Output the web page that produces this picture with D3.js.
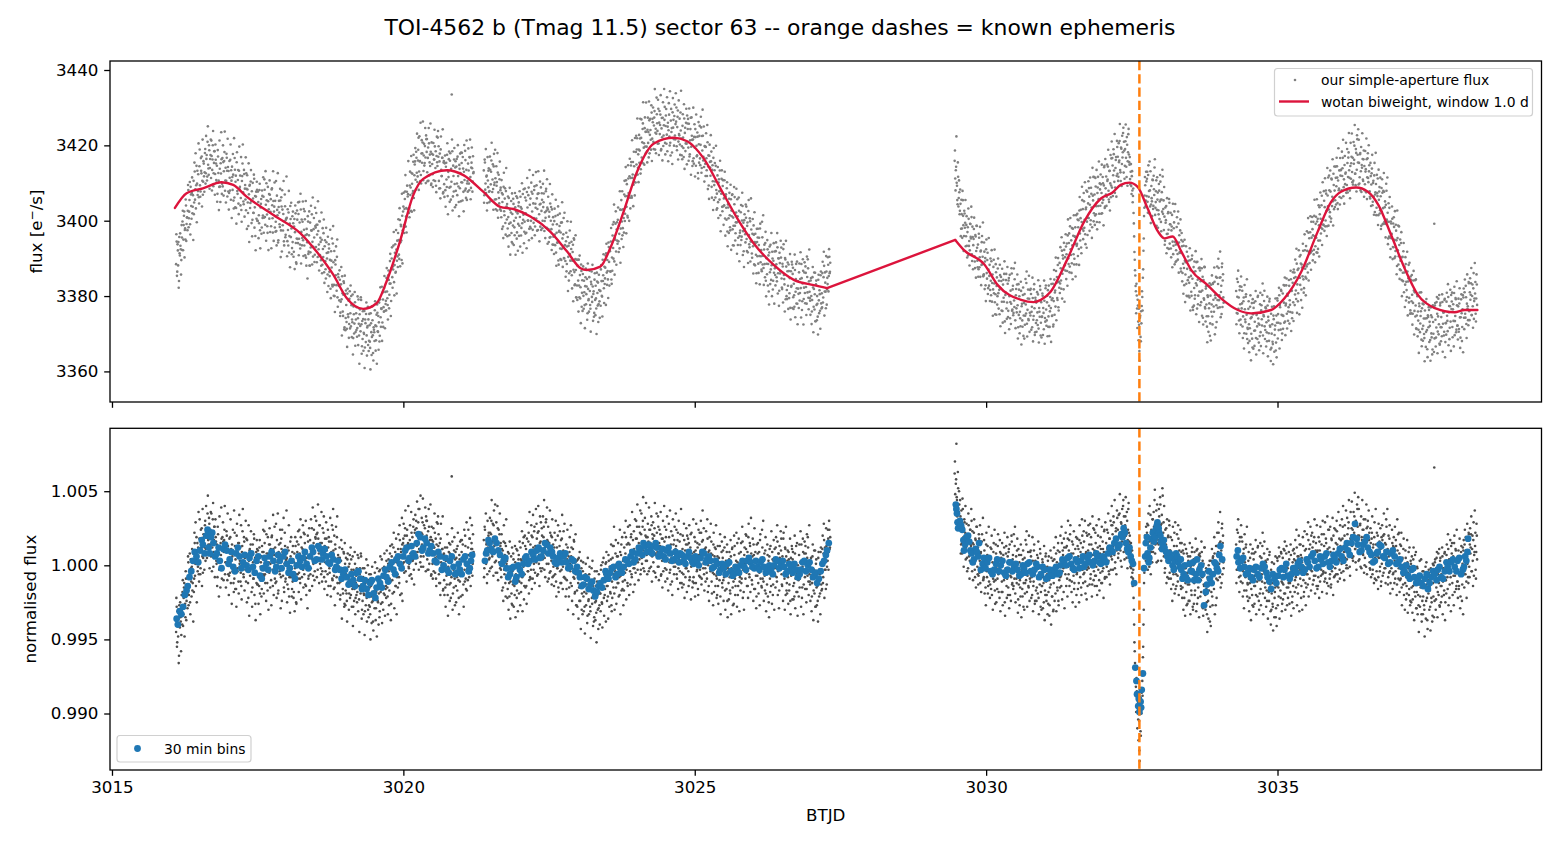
<!DOCTYPE html>
<html>
<head>
<meta charset="utf-8">
<script src="https://cdn.jsdelivr.net/npm/d3@7"></script>
<style>
  body { margin: 0; background: #fff; }
  svg { display: block; }
  text { font-family: "DejaVu Sans", sans-serif; fill: #000; }
</style>
</head>
<body>
<svg id="chart" width="1560" height="845"></svg>
<script>
// ---- data ----
// wotan biweight trend (BTJD, e-/s)
const trendT = [3016.08,3016.28,3016.56,3016.88,3017.08,3017.31,3017.77,3018.23,3018.51,3018.80,3019.03,3019.31,3019.54,3019.71,3019.94,3020.17,3020.34,3020.75,3021.03,3021.37,3021.66,3021.89,3022.18,3022.52,3022.81,3023.04,3023.15,3023.38,3023.55,3023.78,3024.01,3024.30,3024.64,3024.87,3025.15,3025.44,3025.73,3026.01,3026.36,3026.70,3027.04,3027.27,3029.47,3029.62,3029.97,3030.20,3030.60,3030.82,3030.94,3031.11,3031.40,3031.68,3031.97,3032.17,3032.31,3032.46,3032.60,3032.77,3032.95,3033.06,3033.20,3033.35,3033.52,3033.80,3034.03,3034.32,3034.55,3034.89,3035.12,3035.41,3035.69,3035.92,3036.09,3036.35,3036.55,3036.73,3036.95,3037.18,3037.41,3037.70,3038.04,3038.21,3038.43]
const trendF = [3403.4,3407.3,3408.6,3410.2,3409.5,3406.4,3401.5,3396.7,3391.8,3385.6,3379.4,3376.6,3378.1,3383.8,3394.4,3406.8,3411.1,3413.4,3412.1,3407.7,3403.7,3403.1,3401.1,3397.1,3391.8,3387.4,3386.9,3387.8,3392.7,3402.4,3413.0,3420.5,3422.0,3421.1,3416.6,3408.6,3400.6,3394.0,3388.2,3384.3,3382.9,3382.1,3394.9,3392.2,3388.4,3382.9,3379.0,3378.4,3379.0,3381.2,3390.0,3399.7,3405.9,3407.5,3409.5,3410.1,3409.0,3403.3,3397.1,3395.3,3395.8,3391.8,3386.9,3382.9,3379.4,3376.3,3375.4,3376.3,3379.4,3386.5,3397.1,3405.0,3407.7,3408.8,3407.7,3404.2,3396.2,3387.4,3380.3,3376.8,3375.7,3376.3,3376.3]
const trendGapStart = 3027.27, trendGapEnd = 3029.47

// normalised flux of every cadence, as deviation from 1 in units of 1e-4
// set A at segStart + i*cadence, set B half a cadence later
const cadence = 0.01
const segStart = [3016.10, 3021.38, 3029.46, 3034.29]
const grayA1 = [-45,-28,-52,-36,-30,-61,-40,-25,-38,-47,-30,-18,-41,-22,-12,-27,-35,-9,-24,-19,
-14,2,-20,-6,-25,4,-11,-1,-17,-3,8,-9,15,1,-14,19,5,-4,12,-6,18,3,-2,14,25,6,-5,21,9,12,
30,11,22,5,35,17,9,28,14,24,6,23,12,31,-1,17,26,8,19,3,14,-8,21,2,-3,11,-15,7,18,-1,
-3,16,9,24,-6,12,2,20,-10,13,10,-7,5,19,-12,3,14,-4,8,-18,-9,13,4,-16,20,-2,7,-11,15,1,
12,-5,-14,9,23,1,-8,16,5,-3,-11,6,17,-4,-22,3,10,-7,14,-1,7,-15,2,-9,18,-4,-26,5,-12,11,
-13,2,-8,12,-19,-1,6,-16,9,-6,9,-7,15,-12,4,21,-3,-17,8,2,-5,14,1,-10,19,7,-14,11,3,26,
12,-4,-11,17,2,-19,9,5,-6,15,-8,11,24,-3,6,-15,1,13,-9,4,5,-13,-4,10,-21,2,16,-8,-1,-16,
-11,4,-18,8,-2,13,-25,-6,9,-9,14,-5,8,-12,19,2,-8,11,-3,22,-6,15,3,-14,9,-1,20,-9,6,-17,
17,-2,12,25,4,-7,15,9,-4,19,3,21,14,-3,18,8,27,1,12,-6,15,-4,9,22,-8,13,2,-11,18,6,
-6,12,19,-2,8,-14,16,4,-9,24,10,-7,-15,14,3,-4,19,-12,7,-1,-12,5,-20,3,-8,11,-16,-2,8,-26,
1,-17,-6,-24,4,-12,-1,-19,7,-10,-20,-3,-14,6,-28,-9,-16,1,-22,-7,-2,-18,-10,5,-23,-6,-15,8,-13,-30,
-24,-8,-19,-2,-31,-12,-5,-22,-16,0,-10,-27,-15,-33,-6,-21,-25,-12,-38,-18,-22,-5,-17,-29,-9,-2,-24,-13,-19,-35,
-3,-18,-12,4,-25,-8,-15,-1,-20,-6,-14,3,-9,-21,1,-4,-17,8,-11,-26,6,-10,-3,12,-18,-6,9,-14,2,-8,
-6,11,4,-12,17,-2,9,-19,14,1,18,2,13,25,-4,9,20,5,15,-1,1,17,8,-6,22,12,3,26,-3,14,
24,9,30,13,5,21,38,11,18,2,6,22,14,29,-1,18,10,25,16,33,20,4,15,-3,26,11,8,19,-6,17,
1,16,-4,12,22,5,-9,14,9,28,13,-6,9,-12,18,2,-3,11,-17,7,-10,6,-15,3,-7,12,-20,-1,9,-13,
8,-12,2,60,16,-19,-3,10,-9,4,-14,5,-8,13,-2,-22,7,-11,1,17,9,-6,14,-13,3,-3,20,-9,6,-17,
-2,12,7,-8,18,3,-5,15,11,1,8]
const grayB1 = [-22,-55,-31,-48,-66,-27,-42,-35,-58,-20,-40,-10,-33,-15,-48,-26,-4,-37,-19,-29,
6,-27,-15,8,-33,-2,-21,11,-12,-38,-18,22,-7,29,4,-25,15,-1,36,-11,31,-6,24,12,-14,38,5,19,-3,27,
3,40,25,8,47,14,32,-2,21,36,35,-4,20,42,9,26,-8,31,16,1,-14,26,8,-21,33,-3,15,39,-9,19,
29,-10,17,40,2,-15,23,10,35,-6,-20,18,-5,31,11,-26,6,24,-12,37,22,-16,9,-28,28,-4,15,-19,34,3,
-11,27,-23,13,38,-6,19,-17,8,30,18,-25,6,-12,27,-34,11,-3,23,-18,-28,14,-9,21,-20,5,-37,9,17,-13,
10,-26,-14,17,-33,2,-21,13,-8,24,-19,23,-6,30,-24,8,-12,19,-30,14,25,-15,11,-27,20,-3,34,-20,7,-9,
-12,28,-22,6,35,-17,14,-4,24,-29,18,-24,9,-7,32,-18,22,-11,3,37,-25,12,-16,27,-8,-32,6,19,-21,9,
13,-22,2,-31,19,-10,-26,16,-6,23,-18,24,-9,31,-23,12,-2,27,-15,6,21,-13,30,-20,5,-29,16,-7,25,-17,
-6,31,12,-14,39,1,24,-10,33,18,30,-8,22,41,4,-12,27,15,-2,36,-11,25,3,33,-16,18,-4,29,10,-20,
24,-14,16,-5,32,-21,9,27,-10,38,-16,20,-27,11,26,-8,33,-19,5,-1,12,-23,-11,17,-36,-2,-19,9,-28,15,
-27,5,-19,-38,8,-14,-30,1,-22,12,4,-28,-16,-41,-3,-24,9,-33,-12,-20,-25,7,-31,-14,-45,-2,-19,6,-36,-10,
-2,-33,-20,-47,-9,-27,4,-38,-15,-30,-35,-6,-28,-50,-14,-39,-1,-24,-44,-20,-29,2,-37,-18,-48,-9,-25,-40,-4,-31,
6,-26,-13,-39,-2,-30,-19,8,-34,-16,-22,10,-15,-33,4,-27,-9,13,-37,-1,14,-19,-6,22,-29,3,-14,18,-33,7,
-15,21,-8,27,-20,11,-3,32,-24,15,28,-5,20,37,3,-11,24,14,40,-2,-7,27,13,36,-9,19,4,31,-13,22,
34,1,25,43,9,29,-3,38,18,47,-1,32,21,45,6,27,12,39,-4,30,30,-3,23,38,1,17,41,-7,26,9,
-9,25,12,35,-5,18,-14,29,6,33,21,-12,15,-20,28,-3,11,33,-16,8,-20,12,-28,6,-13,21,-34,-5,15,-24,
14,-22,-8,25,-30,5,-15,19,-27,9,-25,11,-17,22,-10,-33,4,16,-21,-6,17,-20,5,-28,24,-11,13,-16,29,-4,
-10,24,-3,18,32,-14,11,27,-7,21,9]
const grayA2 = [17,-2,24,8,1,15,-6,12,20,4,5,22,11,30,-1,16,9,27,13,2,19,3,14,-5,25,10,6,21,-2,15,
-8,11,4,-15,16,-3,7,-12,13,1,3,-16,-7,8,-21,-1,-11,6,-26,-4,-13,4,-9,-20,2,-6,11,-17,-2,-10,
7,-11,-4,12,-18,3,-8,15,-1,-23,-6,13,1,-14,18,6,-4,22,-10,9,14,-3,20,5,-9,12,1,26,-5,10,
2,18,10,-6,23,7,15,-2,29,11,20,4,15,26,-3,12,8,31,1,17,16,1,11,-5,22,9,3,19,-8,14,
-7,12,2,17,-11,5,-2,20,-15,8,13,-4,9,-12,18,6,-1,23,-8,3,-9,7,-16,4,12,-3,-21,9,1,-12,
6,-14,-2,11,-8,16,-19,2,-6,-27,-17,-1,-12,5,-24,-6,-15,3,-30,-9,-4,-21,-9,-28,-13,1,-19,-7,-34,-15,
-23,-6,-17,-31,-10,-2,-26,-14,-20,-38,-9,-25,-14,-32,-4,-20,-12,-29,-18,-40,-19,-3,-13,-26,2,-11,-22,-6,-16,1,
2,-14,-5,-21,7,-9,-1,-18,4,-27,-11,5,-6,13,-19,-2,8,-15,1,-9,6,-12,-1,-20,9,-7,14,-4,-16,3,
-5,12,-10,8,19,-3,4,-14,15,1,14,-4,10,21,-8,6,17,-2,11,-13,1,18,7,26,-3,12,15,4,22,-6,
21,5,16,30,-2,13,24,9,3,19,3,19,8,-4,24,12,15,-1,27,6,18,2,14,25,-5,11,7,22,9,33,
-1,15,6,21,-7,10,3,18,-4,12,16,-2,11,24,4,-9,13,7,19,-5,-3,14,5,-11,20,8,-1,17,2,11,
13,-6,9,22,-2,4,16,-12,7,1,-5,11,2,-13,17,6,-8,14,-2,20,10,-4,15,-10,3,21,-1,8,-15,6,
-8,9,1,16,-12,4,-3,12,-20,7,14,-3,8,22,-9,5,17,1,-6,11,-2,12,4,-9,18,0,-14,10,6,-4,
8,-11,3,-5,14,-18,6,-2,11,-7,-9,6,-14,2,-4,13,-21,-1,9,-12,5,-10,-3,12,-17,1,-7,9,-24,-2,
-12,4,-8,-19,6,-2,11,-15,-5,-26,7,-9,-14,3,-4,15,-20,-1,8,-11,-6,9,-12,4,16,-3,-18,7,1,-9,
11,-5,6,-14,19,1,-8,13,-2,8,-10,6,-3,14,-16,2,9,-7,-21,4,8,-12,3,-5,17,-9,1,-15,12,-2,
-11,4,-7,10,-19,-1,-13,7,-4,-25,6,-9,13,-14,-2,9,-20,3,-6,11,-7,12,2,-11,16,-4,8,-17,5,-1,
10,-6,-14,4,18,-2,-9,12,-20,6,-12,3,-8,9,-17,-1,-24,5,-6,11,4,-14,-3,-21,8,-9,13,-6,-18,0,
-10,7,-15,2,-5,14,-22,-1,9,-13,8,-8,13,-3,-16,5,19,-11,2,-6,-13,3,-9,-21,6,-2,-17,10,-7,-28,
1,-15,-8,-24,5,-11,-3,-19,9,-13,-5,11,-12,8,17,-3,4,-16,13,-1,3,18,9,24,12]
const grayB2 = [-8,26,3,35,14,-12,30,7,22,-4,32,-2,21,44,6,28,-7,37,15,41,-5,29,17,40,-10,24,2,35,13,-3,
21,-17,10,-24,27,-6,15,-21,31,-9,-22,9,-30,-12,16,-36,-3,-19,12,-27,8,-28,-14,13,-35,-1,-22,10,-31,4,
-19,16,-27,4,-12,23,-31,-5,19,-14,20,-15,11,-26,29,-4,16,-19,36,-8,-9,27,-16,19,34,-3,23,-12,13,38,
28,-7,22,40,1,-14,33,16,-4,25,-2,33,19,44,5,-8,29,14,39,-11,26,-9,15,37,-4,20,-13,31,8,-1,
-14,22,-6,30,-21,12,-2,27,-18,9,23,-12,17,-3,34,-16,10,-8,28,3,-21,14,-10,24,-30,6,-15,19,-4,27,
12,-24,5,-33,17,-9,-18,21,-27,3,-28,4,-36,-15,9,-24,-43,-2,-19,-33,2,-31,-18,-46,-6,-27,-13,-39,5,-24,
-33,-1,-28,-49,-12,-22,3,-41,-18,-35,-4,-37,-24,-52,-11,-30,-43,-6,-27,-19,-31,0,-25,-42,-15,5,-34,-20,-8,-38,
9,-24,-14,-36,3,-28,-2,-19,14,-31,-22,13,-15,26,-30,-4,17,-26,6,-12,15,-21,-8,24,-33,7,-17,19,-11,-27,
-17,22,-5,30,-23,14,-12,26,3,-20,27,-13,19,-6,36,8,-18,23,-2,31,-5,30,18,41,2,-10,26,13,37,-3,
35,1,26,46,10,-4,32,20,42,7,-6,28,16,39,-2,24,7,33,-11,21,29,-4,20,42,8,-8,35,15,-1,26,
-10,24,13,36,-6,18,-15,30,4,40,26,-11,19,-3,33,10,-17,28,2,37,-13,23,8,-20,31,14,-6,26,-1,35,
24,-9,17,-16,30,3,-4,21,38,-12,-15,20,-6,28,-22,10,-2,25,-18,14,18,-14,27,-8,12,-23,22,5,-11,31,
-12,19,-21,10,28,-4,15,-16,24,-7,22,-8,30,-13,16,37,-2,25,-17,11,-11,23,-5,31,-18,9,-24,19,2,28,
16,-19,7,-27,22,-6,12,-14,27,-22,-20,13,-26,5,-10,21,-33,-3,16,-15,10,-24,-8,19,-30,3,-16,14,-35,-4,
-23,9,-17,17,-33,-6,12,-27,-11,20,13,-20,-5,22,-28,2,-14,18,-31,-8,-17,15,-9,26,-22,4,-30,12,-3,21,
20,-14,9,-22,28,-6,15,-18,32,-1,-13,18,-24,7,25,-16,2,-29,14,-7,15,-19,9,-27,21,-4,-14,24,-9,30,
-24,8,-17,19,-31,-5,14,-21,3,-35,11,-18,-6,23,-26,4,-13,17,-30,-2,-15,19,-8,27,-20,8,-29,13,-3,23,
18,-13,6,-24,22,-5,-30,11,26,-17,-19,10,-26,4,-13,18,-33,-7,13,-23,9,-23,-12,20,-29,1,-18,15,-34,-6,
-21,14,-9,23,-28,3,-15,18,-33,-4,16,-16,8,-25,21,-7,12,-20,27,-11,-24,5,-31,-12,14,-37,-3,-19,10,-28,
4,-27,-14,-38,9,-21,-6,-33,12,-17,-16,20,-8,28,-22,12,-3,25,-13,8,24,-3,30,11,19]
const grayA3 = [62,48,55,82,44,30,52,36,41,27,33,14,26,8,38,19,11,29,22,4,21,5,16,-2,27,10,3,24,13,30,
-4,15,9,22,1,-8,17,6,26,-1,12,-7,18,3,-12,9,-2,21,5,-10,-8,10,3,-15,14,-4,7,-19,1,-11,
6,-13,-5,11,-20,2,-9,15,-3,-17,-10,8,-2,-16,13,-6,4,-22,9,-1,5,-11,-18,3,-7,12,-25,-4,8,-14,
-9,6,-15,11,-3,-20,2,-8,16,-12,7,-14,-4,13,-19,1,-9,10,-6,-23,-13,2,-10,-21,7,-5,-16,4,-28,-2,
5,-12,-3,14,-18,-7,9,-15,2,-9,-11,6,-8,-20,3,-14,10,-5,-24,1,-1,-15,-9,5,-22,-6,-13,8,-18,-30,
-14,2,-8,-25,-3,-17,6,-11,-20,-1,3,-18,-10,-27,-4,-13,5,-21,-8,-31,-12,4,-7,-19,8,-2,-15,10,-24,-5,
9,-8,3,-14,15,-4,7,-18,12,-1,-6,12,5,-9,18,-1,10,-14,21,2,8,-11,2,14,-7,-16,5,11,-3,-20,
-5,13,6,-12,17,-2,9,-15,4,20,12,-6,16,1,-11,8,22,-3,-14,10,-2,14,7,-9,19,3,-13,11,25,-4,
10,-7,15,-1,-14,8,20,2,-10,13,-5,11,4,-12,16,-2,9,24,-8,6,15,-1,11,22,3,-6,18,8,-3,27,
4,21,13,29,7,-2,17,25,10,32,24,8,19,35,12,3,28,16,21,40,9,26,14,33,20,5,30,17,38,22,
14,3,9,-2,6,-5,-9,-22,-40,-58,-70,-82,-76,-95,-88,-104,-93,-125,-98,-112,-91,-86,-78,-62,-40,-12,5,14,3,19,
22,5,27,11,-1,18,34,9,15,2,31,12,26,44,8,19,37,15,24,3,14,33,25,41,10,28,19,47,22,6,
17,-2,12,25,3,-8,19,6,30,-5,10,-9,5,17,-4,-13,8,22,-1,-16,-6,13,1,-11,18,4,-3,15,-14,9,
5,-15,-7,8,-22,-2,-12,11,-27,-5,-13,3,-9,-24,6,-1,-17,9,-6,-30,4,-12,-20,2,-7,10,-26,-3,-15,7,
-11,6,-2,-18,9,-8,-29,1,-14,12,-20,-4,-16,-33,-8,-24,0,-13,-38,-6,3,-12,-21,5,-7,-16,8,-2,-27,-9,
13,-4,9,22,1,-8,16,5,-12,28,15,2]
const grayB3 = [70,39,58,46,33,63,29,50,24,44,8,37,15,45,26,-1,31,18,40,12,28,-4,20,35,6,-9,24,14,38,1,
23,-10,14,31,-3,18,-15,26,9,-6,-13,21,-5,27,8,-18,16,-1,32,-9,17,-19,6,-27,22,-8,13,-14,26,-3,
-22,12,-16,20,-5,-30,9,-11,24,-26,14,-25,5,-9,21,-18,-3,17,-31,8,-18,15,-27,7,-10,22,-34,-2,13,-22,
19,-20,9,-29,14,-7,-24,20,-13,4,-16,21,-9,26,-25,6,-12,18,-32,11,7,-27,-15,14,-35,-3,-21,10,-12,-30,
-19,17,-10,23,-28,2,-14,20,-24,9,10,-22,-4,19,-31,-11,14,-26,3,-17,-24,7,-19,16,-33,-9,11,-28,-2,-14,
4,-29,-12,13,-37,-20,8,-24,-6,-33,-26,6,-34,-15,10,-40,-8,-21,3,-30,12,-24,-6,19,-31,2,-17,15,-27,-10,
-15,20,-7,26,-23,10,-2,18,-29,5,22,-14,13,-21,30,-6,17,-10,27,-3,-18,16,-25,8,23,-12,4,-28,19,-6,
18,-16,11,-25,27,-8,15,-20,31,-3,-12,23,-5,30,-19,9,-23,20,-1,27,21,-13,28,-6,14,-21,33,7,-10,24,
-14,22,-7,27,-20,12,-3,31,-17,8,19,-12,26,-4,11,-22,23,-9,29,1,-8,24,12,35,-4,18,-13,30,6,40,
27,-3,33,16,44,2,23,-6,37,11,5,34,20,48,10,29,-1,38,25,44,33,4,27,46,13,36,-2,24,42,16,
20,-1,15,-8,10,-14,-3,-30,-52,-66,-78,-99,-85,-110,-92,-118,-105,-132,-96,-115,-100,-74,-88,-55,-30,-5,20,-2,26,8,
28,-3,35,16,40,6,-6,24,13,31,9,36,22,51,14,28,2,41,30,17,38,11,46,27,3,34,52,18,29,40,
-5,24,14,-12,31,3,20,-9,27,10,19,-16,8,-24,26,-6,13,-19,29,-2,-14,21,-7,27,-20,10,-3,24,-16,15,
-22,10,-30,-9,14,-34,-2,-18,8,-26,6,-24,-13,15,-33,-5,-20,12,-28,0,-26,9,-17,18,-31,-8,11,-22,-1,-35,
8,-21,-10,16,-28,3,-34,-13,12,-19,-30,-2,-25,-45,-9,-36,-17,3,-28,-41,-18,11,-27,6,-12,19,-33,-4,13,-22,
22,-10,29,-3,15,36,-15,10,25,-6,20,-2]
const grayA4 = [14,-3,10,22,1,-8,16,5,-11,19,6,-12,-4,11,-17,2,-8,14,-2,-21,-13,3,-9,-22,5,-4,-16,8,-27,-1,
4,-14,-7,9,-20,-2,-11,12,-5,-24,-10,6,-16,1,-6,13,-19,-3,8,-12,-15,2,-9,-24,4,-5,-18,7,-12,-31,
-3,-19,-12,-28,-6,1,-22,-15,-35,-8,-14,3,-8,-21,6,-2,-17,9,-11,-26,5,-13,-3,10,-19,-7,8,-15,0,-22,
-12,4,-8,-18,7,-3,-25,2,-14,11,8,-10,3,-15,12,-5,-19,6,-2,14,-9,7,-14,2,-6,13,-21,-1,10,-12,
11,-6,5,-13,17,1,-9,14,-3,20,-4,12,6,-10,19,2,-7,15,-14,9,10,-8,3,16,-11,5,-3,21,-6,0,
-5,13,7,-9,18,1,-12,11,24,-2,12,-6,9,-13,17,3,-1,20,-8,6,-2,15,8,23,-6,11,3,18,-9,13,
17,1,12,26,-4,9,20,5,14,-2,4,21,10,29,15,-1,18,8,25,13,24,6,19,33,11,2,27,14,38,20,
3,20,9,28,14,-2,17,24,7,31,19,5,15,-1,25,11,30,8,17,2,-3,15,9,22,-6,12,2,19,-9,7,
14,-4,8,20,-8,5,16,-1,11,-11,1,17,6,-5,21,10,-2,14,26,3,11,-8,6,18,-4,-12,9,2,15,-6,
-5,12,3,-9,17,6,-13,10,21,-2,8,-10,-2,13,-15,4,-7,11,-20,1,-12,5,-8,-19,2,-5,9,-16,-1,-24,
1,-15,-9,-23,4,-3,-18,7,-12,-29,-18,-2,-13,-27,-6,3,-21,-11,-33,-8,-4,-21,-15,-30,-8,-1,-24,-13,-37,-10,
-19,-5,-14,-28,-2,-22,-9,-34,-12,0,66,2,-9,-23,5,-4,-18,8,-12,-27,3,-14,-6,-21,6,-11,-2,-17,9,-25,
-10,7,-4,-16,11,-1,-22,4,-8,13,8,-12,2,-7,15,-18,-3,10,-14,5,-11,4,-16,6,-5,-21,9,-2,-13,12,
10,-6,14,-3,19,-11,5,1,-8,22,-1,14,8,21,-4,11,3,17,-7,9,13,-3,9,20]
const grayB4 = [-12,24,-3,31,10,-18,19,-7,27,2,16,-21,8,-29,21,-6,12,-17,26,-12,-24,9,-31,-12,14,-37,-3,-20,11,-28,
8,-26,-14,17,-33,-1,-21,13,-9,-30,-19,15,-27,5,-11,22,-33,-4,16,-22,3,-28,-17,11,-36,-8,-24,9,-13,-40,
-30,2,-26,-44,-9,-35,-18,6,-29,-41,5,-27,-15,12,-36,-4,-22,8,-31,-12,-23,11,-19,16,-30,-6,13,-27,-2,-15,
9,-26,-12,14,-34,-3,-21,10,-29,4,-18,17,-8,24,-27,6,-13,20,-31,-3,14,-22,5,-30,19,-10,-18,23,-5,-27,
-15,21,-6,29,-21,11,-2,26,-17,7,22,-13,16,-7,31,-19,10,-2,27,-16,-14,19,-22,10,26,-7,14,-18,30,-4,
21,-11,29,-5,15,-19,33,2,-14,24,-9,26,-15,18,-4,32,-20,11,25,-7,24,-6,30,14,-11,36,4,-3,27,17,
-5,31,18,40,3,-10,27,13,37,0,32,-2,25,44,9,-7,36,20,43,5,3,36,22,49,11,30,-3,41,26,46,
38,4,27,-1,33,19,44,8,24,-5,0,31,17,41,-6,26,11,37,22,-2,25,-8,18,33,-3,14,-12,29,5,38,
-10,22,6,-16,28,12,-4,25,-14,19,27,-7,20,35,-2,15,-12,31,4,38,-13,20,-5,27,-19,10,-2,24,-16,13,
19,-12,26,-4,13,-20,31,1,-9,22,-18,14,-9,22,-27,5,-13,18,-4,-30,10,-23,-14,17,-32,-2,-20,12,-27,3,
-25,6,-32,-14,12,-37,-3,-21,9,-29,-1,-33,-20,-45,-8,-28,-15,4,-38,-24,-33,-4,-27,-48,-14,-36,2,-22,-43,-11,
-3,-30,-17,-44,-8,-25,-38,1,-21,-35,-24,4,-30,-15,9,-35,-6,-20,11,-28,5,-25,-14,12,-33,-2,-20,8,-37,-10,
-19,14,-8,21,-27,4,-13,17,-31,2,15,-20,6,-27,20,-7,11,-16,24,-11,-22,10,-14,18,-29,-5,13,-24,1,-33,
17,-15,24,-6,10,-22,28,3,-12,21,-8,25,12,33,-4,20,-14,29,7,37,22,-9,28,4]

// 30 min bins (BTJD, deviation in 1e-4), first reading pass
const binT = [3016.11,3016.13,3016.16,3016.19,3016.22,3016.25,3016.28,3016.33,3016.36,3016.39,3016.45,3016.51,3016.56,3016.62,3016.66,3016.70,3016.74,3016.80,3016.85,3016.91,3016.97,3017.02,3017.08,3017.13,3017.19,3017.25,3017.31,3017.36,3017.42,3017.48,3017.54,3017.59,3017.65,3017.71,3017.77,3017.82,3017.88,3017.94,3018.00,3018.05,3018.11,3018.17,3018.23,3018.28,3018.34,3018.40,3018.45,3018.51,3018.57,3018.62,3018.68,3018.74,3018.80,3018.85,3018.91,3018.97,3019.03,3019.08,3019.14,3019.20,3019.26,3019.31,3019.37,3019.43,3019.49,3019.54,3019.60,3019.66,3019.71,3019.77,3019.83,3019.88,3019.94,3020.00,3020.06,3020.11,3020.17,3020.23,3020.29,3020.34,3020.40,3020.45,3020.51,3020.57,3020.63,3020.69,3020.75,3020.80,3020.86,3020.92,3020.97,3021.03,3021.09,3021.14,3021.18,
3021.40,3021.44,3021.48,3021.54,3021.60,3021.66,3021.72,3021.77,3021.83,3021.89,3021.94,3022.00,3022.06,3022.11,3022.17,3022.23,3022.29,3022.34,3022.40,3022.46,3022.52,3022.57,3022.63,3022.69,3022.75,3022.80,3022.86,3022.92,3022.98,3023.03,3023.09,3023.15,3023.21,3023.26,3023.32,3023.38,3023.44,3023.49,3023.55,3023.61,3023.67,3023.72,3023.78,3023.84,3023.90,3023.95,3024.01,3024.07,3024.12,3024.18,3024.24,3024.30,3024.35,3024.41,3024.47,3024.52,3024.58,3024.64,3024.70,3024.75,3024.81,3024.87,3024.93,3024.98,3025.04,3025.10,3025.16,3025.21,3025.27,3025.33,3025.39,3025.44,3025.50,3025.56,3025.62,3025.67,3025.73,3025.79,3025.85,3025.90,3025.96,3026.02,3026.08,3026.13,3026.19,3026.25,3026.31,3026.36,3026.42,3026.48,3026.53,3026.59,3026.65,3026.71,3026.77,3026.82,3026.88,3026.94,3027.00,3027.05,3027.10,3027.16,3027.22,3027.27,3027.30,
3029.48,3029.50,3029.52,3029.55,3029.59,3029.62,3029.66,3029.71,3029.75,3029.79,3029.84,3029.88,3029.91,3029.96,3030.02,3030.08,3030.14,3030.19,3030.25,3030.31,3030.37,3030.42,3030.48,3030.54,3030.60,3030.65,3030.71,3030.77,3030.83,3030.88,3030.94,3031.00,3031.06,3031.11,3031.17,3031.23,3031.28,3031.34,3031.40,3031.46,3031.51,3031.57,3031.63,3031.68,3031.74,3031.80,3031.86,3031.91,3031.97,3032.03,3032.09,3032.14,3032.20,3032.26,3032.32,3032.36,3032.40,3032.44,3032.48,3032.52,3032.54,3032.56,3032.59,3032.61,3032.63,3032.65,3032.67,3032.69,3032.71,3032.74,3032.77,3032.80,3032.84,3032.88,3032.91,3032.94,3032.97,3033.00,3033.03,3033.06,3033.11,3033.15,3033.20,3033.24,3033.28,3033.32,3033.35,3033.39,3033.43,3033.49,3033.53,3033.57,3033.62,3033.66,3033.71,3033.74,3033.79,3033.84,3033.89,3033.94,3033.98,3034.02,3034.05,
3034.32,3034.33,3034.38,3034.43,3034.49,3034.55,3034.60,3034.66,3034.72,3034.78,3034.83,3034.89,3034.95,3035.01,3035.07,3035.12,3035.18,3035.24,3035.30,3035.35,3035.41,3035.47,3035.52,3035.58,3035.64,3035.70,3035.75,3035.81,3035.87,3035.93,3035.98,3036.04,3036.10,3036.16,3036.21,3036.27,3036.33,3036.38,3036.44,3036.50,3036.55,3036.61,3036.67,3036.72,3036.78,3036.84,3036.90,3036.95,3037.01,3037.07,3037.13,3037.18,3037.24,3037.30,3037.35,3037.41,3037.47,3037.53,3037.58,3037.64,3037.70,3037.75,3037.81,3037.87,3037.92,3037.98,3038.04,3038.09,3038.15,3038.20,3038.24,3038.27]
const binV = [-36,-40,-31,-33,-28,-20,-17,-8,-4,3,6,10,14,20,12,19,15,8,3,11,10,4,-1,8,6,2,0,5,-1,3,-7,-2,1,6,3,-1,3,6,1,-2,-6,0,3,5,1,6,9,4,11,8,6,1,4,-1,-3,-6,-8,-12,-10,-5,-9,-14,-16,-12,-19,-15,-12,-7,-8,-1,-3,4,1,6,12,5,8,15,19,12,15,10,8,2,6,0,-3,3,-1,-5,-3,4,1,-2,7,
3,10,15,9,15,7,3,-2,-6,-1,-8,-3,1,6,3,7,10,5,10,14,12,6,1,8,6,2,-1,3,-1,-8,-13,-9,-13,-17,-18,-12,-10,-6,-5,-1,-6,-2,-1,3,6,2,8,11,15,9,10,13,12,8,6,10,8,4,6,8,3,6,5,1,3,5,8,4,3,-1,1,-3,-2,1,-4,-6,-3,0,-1,3,2,-2,-1,2,-1,-4,-3,0,3,1,-1,-4,-1,1,-8,-3,3,0,-3,-7,-12,-4,3,10,15,
41,35,25,30,24,10,19,16,8,4,9,15,-3,5,2,-4,-3,4,0,-5,-3,2,-1,-3,-6,-2,1,-4,-3,-1,-6,-3,-8,-5,-3,-6,0,3,5,1,-3,2,3,-1,5,2,3,6,1,4,8,11,15,12,21,25,15,9,6,1,-12,-69,-87,-95,-99,-92,-84,-73,-2,15,8,5,18,16,24,29,22,16,14,12,6,8,0,3,6,-1,-3,-6,-8,1,-4,-10,4,-3,-6,-27,-13,-9,-6,1,-4,13,4,
10,2,3,-1,-5,-8,-3,-6,-2,-1,-8,-16,-9,-7,-2,-3,-7,-6,-2,1,-1,-3,2,6,3,-1,4,6,2,3,5,8,6,12,10,15,28,14,10,16,12,7,3,9,13,5,1,8,6,2,-1,-4,-7,-3,-8,-10,-12,-9,-16,-8,-6,-3,-8,-4,-1,2,-1,3,-6,-1,3,18]
// second reading pass: the bins lying between the ones above
const binT2 = [3016.30,3016.42,3016.48,3016.54,3016.59,3016.64,3016.68,3016.72,3016.77,3016.83,3016.88,3016.94,3017.00,3017.05,3017.11,3017.16,3017.22,3017.28,3017.34,3017.39,3017.45,3017.51,3017.57,3017.62,3017.68,3017.74,3017.80,3017.85,3017.91,3017.97,3018.03,3018.08,3018.14,3018.20,3018.26,3018.31,3018.37,3018.43,3018.48,3018.54,3018.60,3018.65,3018.71,3018.77,3018.83,3018.88,3018.94,3019.00,3019.06,3019.11,3019.17,3019.23,3019.29,3019.34,3019.40,3019.46,3019.52,3019.57,3019.63,3019.69,3019.74,3019.80,3019.86,3019.91,3019.97,3020.03,3020.09,3020.14,3020.20,3020.26,3020.32,3020.37,3020.43,3020.48,3020.54,3020.60,3020.66,3020.72,3020.78,3020.83,3020.89,3020.95,3021.00,3021.06,3021.12,3021.16,
3021.42,3021.46,3021.51,3021.57,3021.63,3021.69,3021.75,3021.80,3021.86,3021.92,3021.97,3022.03,3022.09,3022.14,3022.20,3022.26,3022.32,3022.37,3022.43,3022.49,3022.55,3022.60,3022.66,3022.72,3022.78,3022.83,3022.89,3022.95,3023.01,3023.06,3023.12,3023.18,3023.24,3023.29,3023.35,3023.41,3023.47,3023.52,3023.58,3023.64,3023.70,3023.75,3023.81,3023.87,3023.93,3023.98,3024.04,3024.10,3024.15,3024.21,3024.27,3024.33,3024.38,3024.44,3024.50,3024.55,3024.61,3024.67,3024.73,3024.78,3024.84,3024.90,3024.96,3025.01,3025.07,3025.13,3025.19,3025.24,3025.30,3025.36,3025.42,3025.47,3025.53,3025.59,3025.65,3025.70,3025.76,3025.82,3025.88,3025.93,3025.99,3026.05,3026.11,3026.16,3026.22,3026.28,3026.34,3026.39,3026.45,3026.51,3026.56,3026.62,3026.68,3026.74,3026.80,3026.85,3026.91,3026.97,3027.03,3027.08,3027.13,3027.19,3027.25,
3029.49,3029.51,3029.57,3029.61,3029.64,3029.69,3029.73,3029.77,3029.82,3029.86,3029.94,3029.99,3030.05,3030.11,3030.17,3030.22,3030.28,3030.34,3030.40,3030.45,3030.51,3030.57,3030.63,3030.68,3030.74,3030.80,3030.86,3030.91,3030.97,3031.03,3031.09,3031.14,3031.20,3031.26,3031.31,3031.37,3031.43,3031.49,3031.54,3031.60,3031.66,3031.71,3031.77,3031.83,3031.89,3031.94,3032.00,3032.06,3032.12,3032.17,3032.23,3032.29,3032.34,3032.38,3032.42,3032.46,3032.50,3032.58,3032.62,3032.66,3032.73,3032.76,3032.79,3032.82,3032.86,3032.90,3032.93,3032.96,3032.99,3033.02,3033.05,3033.09,3033.13,3033.18,3033.22,3033.26,3033.30,3033.34,3033.37,3033.41,3033.46,3033.51,3033.55,3033.60,3033.64,3033.69,3033.77,3033.82,3033.87,3033.92,3033.96,3034.00,
3034.30,3034.36,3034.41,3034.46,3034.52,3034.58,3034.63,3034.69,3034.75,3034.81,3034.86,3034.92,3034.98,3035.04,3035.10,3035.15,3035.21,3035.27,3035.33,3035.38,3035.44,3035.50,3035.55,3035.61,3035.67,3035.73,3035.78,3035.84,3035.90,3035.96,3036.01,3036.07,3036.13,3036.19,3036.24,3036.30,3036.36,3036.41,3036.47,3036.53,3036.58,3036.64,3036.70,3036.75,3036.81,3036.87,3036.93,3036.98,3037.04,3037.10,3037.16,3037.21,3037.27,3037.33,3037.38,3037.44,3037.50,3037.56,3037.61,3037.67,3037.73,3037.78,3037.84,3037.90,3037.95,3038.01,3038.07,3038.12,3038.18,3038.22,3038.26]
const binV2 = [-14,9,2,17,8,24,8,22,6,12,-2,14,1,9,-4,12,-2,7,-3,8,-5,6,-9,5,-3,9,-4,7,-2,9,-5,3,-9,6,-1,9,-2,12,3,13,4,11,2,7,-3,3,-9,-3,-13,-6,-14,-4,-16,-10,-20,-10,-22,-9,-15,-3,-11,2,-6,6,-2,10,3,13,6,21,10,18,8,13,3,9,-3,5,-5,6,-6,1,-6,6,-4,3,
8,17,11,18,10,1,5,-8,-2,-11,0,-6,5,1,9,4,12,6,15,8,9,2,5,2,8,-2,4,-4,-5,-14,-8,-16,-11,-21,-14,-15,-4,-9,-2,-8,1,-5,4,1,9,4,12,7,13,14,8,15,6,11,4,12,3,9,2,7,1,9,2,6,0,9,2,6,-2,3,-5,1,-6,2,-7,-1,-5,3,-3,5,-1,3,-3,4,-5,0,-6,4,-2,3,-6,1,-5,-3,-6,2,-4,2,-8,-5,-9,1,7,
38,29,27,17,14,20,10,2,11,6,1,-2,5,-6,1,-4,3,-7,2,-4,1,-7,0,-5,2,-6,1,-8,-1,-9,-3,-7,-1,-5,4,0,6,-2,4,-2,6,1,7,0,8,2,6,2,12,9,18,14,19,22,11,12,3,-78,-90,-96,6,19,2,12,22,19,27,25,20,11,17,9,3,5,-3,8,2,4,-9,0,-10,-4,2,-6,-10,0,-18,-4,-12,2,-2,7,
6,-2,5,-6,-2,-10,-1,-8,1,-5,-11,-6,-12,-3,-8,1,-9,-2,-5,3,-5,4,-1,8,-2,6,1,8,-1,7,2,11,3,15,7,19,18,9,14,19,9,2,8,14,6,9,2,10,1,4,-5,0,-9,-2,-12,-7,-14,-6,-12,-4,-10,-1,-9,2,-4,4,-4,5,-3,6,9]

const knownTransit = 3032.63

const title = 'TOI-4562 b (Tmag 11.5) sector 63 -- orange dashes = known ephemeris'
const xTicks = [3015, 3020, 3025, 3030, 3035]
const yTicksTop = [3360, 3380, 3400, 3420, 3440]
const yTicksBot = [0.990, 0.995, 1.000, 1.005]

// ---- layout ----
const left = 110, right = 1541.5
const top1 = 61, bot1 = 402
const top2 = 428.3, bot2 = 770
const tickLen = 5.8, tickPad = 5.8

const svg = d3.select('#chart')

const x = d3.scaleLinear().domain([3014.966, 3039.53]).range([left, right])
const y1 = d3.scaleLinear().domain([3351.88, 3442.39]).range([bot1, top1])
const y2 = d3.scaleLinear().domain([0.986188, 1.009245]).range([bot2, top2])
const trendAt = d3.scaleLinear().domain(trendT).range(trendF).clamp(true)

// build cadences: flux = trend * normalised flux
let pts = []
function addSet(arr, t0) {
  arr.forEach((d, i) => {
    let t = t0 + i * cadence
    let norm = 1 + d * 1e-4
    pts.push({t: t, norm: norm, flux: trendAt(t) * norm})
  })
}
;[grayA1, grayA2, grayA3, grayA4].forEach((arr, s) => addSet(arr, segStart[s]))
;[grayB1, grayB2, grayB3, grayB4].forEach((arr, s) => addSet(arr, segStart[s] + cadence / 2))

let bins = binT.map((t, i) => ({t: t, norm: 1 + binV[i] * 1e-4}))
  .concat(binT2.map((t, i) => ({t: t, norm: 1 + binV2[i] * 1e-4})))
  .sort((a, b) => a.t - b.t)

let trend = trendT.map((t, i) => ({t: t, f: trendF[i]}))

let defs = svg.append('defs')
defs.append('clipPath').attr('id', 'clip1').append('rect')
  .attr('x', left).attr('y', top1).attr('width', right - left).attr('height', bot1 - top1)
defs.append('clipPath').attr('id', 'clip2').append('rect')
  .attr('x', left).attr('y', top2).attr('width', right - left).attr('height', bot2 - top2)

// title
svg.append('text')
  .attr('x', 780).attr('y', 35)
  .attr('text-anchor', 'middle')
  .style('font-size', '21.9px')
  .text(title)

// ---- top panel ----
let g1 = svg.append('g').attr('clip-path', 'url(#clip1)')
g1.selectAll('circle.raw').data(pts).enter().append('circle')
  .attr('class', 'raw')
  .attr('cx', d => x(d.t))
  .attr('cy', d => y1(d.flux))
  .attr('r', 1.3)
  .attr('fill', '#808080')

// smooth within each orbit, straight across the data gap
let smooth = d3.line().curve(d3.curveMonotoneX).x(d => x(d.t)).y(d => y1(d.f))
let straight = d3.line().x(d => x(d.t)).y(d => y1(d.f))
let before = trend.filter(d => d.t <= trendGapStart)
let after = trend.filter(d => d.t >= trendGapEnd)
let across = trend.filter(d => d.t === trendGapStart || d.t === trendGapEnd)
;[smooth(before), straight(across), smooth(after)].forEach(p => {
  g1.append('path')
    .attr('d', p)
    .attr('fill', 'none')
    .attr('stroke', '#dc143c')
    .attr('stroke-width', 2.4)
    .attr('stroke-linejoin', 'round')
    .attr('stroke-linecap', 'round')
})

g1.append('line')
  .attr('x1', x(knownTransit)).attr('x2', x(knownTransit))
  .attr('y1', top1).attr('y2', bot1)
  .attr('stroke', '#ff7f0e').attr('stroke-width', 2.5)
  .attr('stroke-dasharray', '9.25,4')

// ---- bottom panel ----
let g2 = svg.append('g').attr('clip-path', 'url(#clip2)')
g2.selectAll('circle.norm').data(pts).enter().append('circle')
  .attr('class', 'norm')
  .attr('cx', d => x(d.t))
  .attr('cy', d => y2(d.norm))
  .attr('r', 1.3)
  .attr('fill', '#4d4d4d')

g2.selectAll('circle.bin').data(bins).enter().append('circle')
  .attr('class', 'bin')
  .attr('cx', d => x(d.t))
  .attr('cy', d => y2(d.norm))
  .attr('r', 3.4)
  .attr('fill', '#1f77b4')

g2.append('line')
  .attr('x1', x(knownTransit)).attr('x2', x(knownTransit))
  .attr('y1', top2).attr('y2', bot2)
  .attr('stroke', '#ff7f0e').attr('stroke-width', 2.5)
  .attr('stroke-dasharray', '9.25,4')

// ---- axes ----
function styleAxis(sel) {
  sel.select('.domain').remove()
  sel.selectAll('.tick line').attr('stroke', '#000').attr('stroke-width', 1.3)
  sel.selectAll('.tick text').style('font-size', '16.7px').attr('fill', '#000')
    .style('font-family', '"DejaVu Sans", sans-serif')
}

svg.append('g').attr('transform', 'translate(0,' + bot1 + ')')
  .call(d3.axisBottom(x).tickValues(xTicks).tickSize(tickLen).tickFormat(''))
  .call(styleAxis)
svg.append('g').attr('transform', 'translate(' + left + ',0)')
  .call(d3.axisLeft(y1).tickValues(yTicksTop).tickSize(tickLen).tickPadding(tickPad).tickFormat(d3.format('d')))
  .call(styleAxis)

svg.append('g').attr('transform', 'translate(0,' + bot2 + ')')
  .call(d3.axisBottom(x).tickValues(xTicks).tickSize(tickLen).tickPadding(tickPad).tickFormat(d3.format('d')))
  .call(styleAxis)
svg.append('g').attr('transform', 'translate(' + left + ',0)')
  .call(d3.axisLeft(y2).tickValues(yTicksBot).tickSize(tickLen).tickPadding(tickPad).tickFormat(d3.format('.3f')))
  .call(styleAxis)

// frames
;[[top1, bot1], [top2, bot2]].forEach(p => {
  svg.append('rect')
    .attr('x', left).attr('y', p[0])
    .attr('width', right - left).attr('height', p[1] - p[0])
    .attr('fill', 'none').attr('stroke', '#000').attr('stroke-width', 1.3)
})

// axis labels
let yl1 = svg.append('text')
  .attr('transform', 'translate(42,' + ((top1 + bot1) / 2) + ') rotate(-90)')
  .attr('text-anchor', 'middle')
  .style('font-size', '16.7px')
yl1.append('tspan').text('flux [e')
yl1.append('tspan').attr('dy', -6).style('font-size', '12px').text('\u2212')
yl1.append('tspan').attr('dy', 6).text('/s]')

svg.append('text')
  .attr('transform', 'translate(36,' + ((top2 + bot2) / 2) + ') rotate(-90)')
  .attr('text-anchor', 'middle')
  .style('font-size', '16.7px')
  .text('normalised flux')

svg.append('text')
  .attr('x', (left + right) / 2).attr('y', 821)
  .attr('text-anchor', 'middle')
  .style('font-size', '16.7px')
  .text('BTJD')

// ---- legends ----
let lg1 = svg.append('g')
lg1.append('rect')
  .attr('x', 1274.5).attr('y', 68.5).attr('width', 258).attr('height', 47.5).attr('rx', 3)
  .attr('fill', '#fff').attr('fill-opacity', 0.8).attr('stroke', '#d0d0d0').attr('stroke-width', 1.2)
lg1.append('circle').attr('cx', 1295).attr('cy', 80).attr('r', 1.3).attr('fill', '#808080')
lg1.append('text').attr('x', 1321).attr('y', 85).style('font-size', '13.9px').text('our simple-aperture flux')
lg1.append('line').attr('x1', 1279).attr('x2', 1309).attr('y1', 101.5).attr('y2', 101.5)
  .attr('stroke', '#dc143c').attr('stroke-width', 2.4)
lg1.append('text').attr('x', 1321).attr('y', 106.5).style('font-size', '13.9px').text('wotan biweight, window 1.0 d')

let lg2 = svg.append('g')
lg2.append('rect')
  .attr('x', 117).attr('y', 735.5).attr('width', 134).attr('height', 26.5).attr('rx', 3)
  .attr('fill', '#fff').attr('fill-opacity', 0.8).attr('stroke', '#d0d0d0').attr('stroke-width', 1.2)
lg2.append('circle').attr('cx', 137.5).attr('cy', 748.5).attr('r', 3.4).attr('fill', '#1f77b4')
lg2.append('text').attr('x', 164).attr('y', 753.5).style('font-size', '13.9px').text('30 min bins')
</script>
</body>
</html>
